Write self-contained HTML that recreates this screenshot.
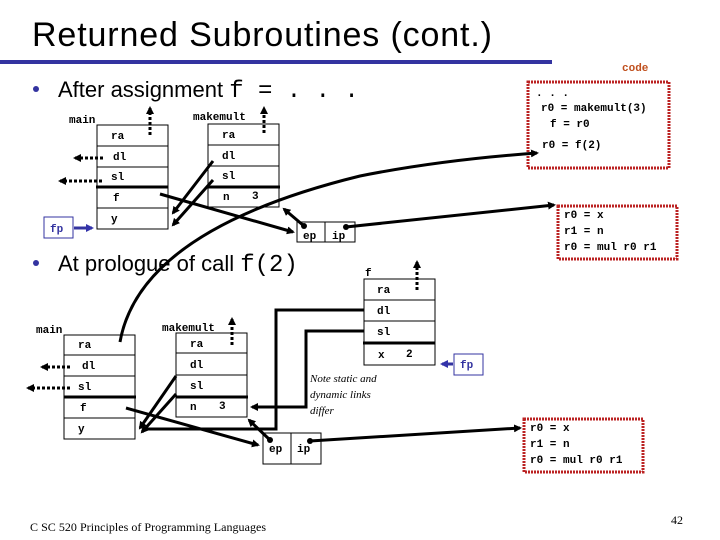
<!DOCTYPE html>
<html><head><meta charset="utf-8"><style>
body{margin:0;background:#fff;width:720px;height:540px;overflow:hidden}
svg{display:block}
.m{font-family:"Liberation Mono",monospace;font-weight:bold;font-size:11px;fill:#000}
.h{font-family:"Liberation Sans",sans-serif;fill:#000}
</style></head><body>
<svg width="720" height="540" viewBox="0 0 720 540" xmlns="http://www.w3.org/2000/svg">
<defs>
<marker id="a" markerWidth="8" markerHeight="8" refX="6" refY="4" orient="auto" markerUnits="userSpaceOnUse"><path d="M0,0 L8,4 L0,8z" fill="#000"/></marker>
<marker id="b" markerWidth="8" markerHeight="8" refX="6" refY="4" orient="auto" markerUnits="userSpaceOnUse"><path d="M0,0 L8,4 L0,8z" fill="#33a"/></marker>
</defs>
<text x="32" y="46" class="h" font-size="34" textLength="460">Returned Subroutines (cont.)</text>
<rect x="0" y="60" width="552" height="4" fill="#3333a0"/>
<text x="622" y="71" font-family="Liberation Mono,monospace" font-weight="bold" font-size="11" fill="#c0501e">code</text>
<circle cx="36" cy="89" r="3" fill="#3333a0"/>
<text x="58" y="97" class="h" font-size="22">After assignment <tspan font-family="Liberation Mono,monospace" font-size="24">f = . . .</tspan></text>
<circle cx="36" cy="263" r="3" fill="#3333a0"/>
<text x="58" y="271" class="h" font-size="22">At prologue of call <tspan font-family="Liberation Mono,monospace" font-size="24">f(2)</tspan></text>

<g fill="none" stroke="#000" stroke-width="1">
<rect x="97" y="125" width="71" height="104"/><line x1="97" y1="146" x2="168" y2="146"/><line x1="97" y1="167" x2="168" y2="167"/><line x1="97" y1="208" x2="168" y2="208"/>
<rect x="208" y="124" width="71" height="83"/><line x1="208" y1="145" x2="279" y2="145"/><line x1="208" y1="166" x2="279" y2="166"/>
<rect x="297" y="222" width="58" height="20"/><line x1="325" y1="222" x2="325" y2="242"/>
<rect x="64" y="335" width="71" height="104"/><line x1="64" y1="355" x2="135" y2="355"/><line x1="64" y1="376" x2="135" y2="376"/><line x1="64" y1="418" x2="135" y2="418"/>
<rect x="176" y="333" width="71" height="84"/><line x1="176" y1="353" x2="247" y2="353"/><line x1="176" y1="375" x2="247" y2="375"/>
<rect x="263" y="433" width="58" height="31"/><line x1="291" y1="433" x2="291" y2="464"/>
<rect x="364" y="279" width="71" height="86"/><line x1="364" y1="300" x2="435" y2="300"/><line x1="364" y1="321" x2="435" y2="321"/>
</g>
<g stroke="#000" stroke-width="3">
<line x1="96" y1="187" x2="168" y2="187"/><line x1="208" y1="187" x2="280" y2="187"/>
<line x1="64" y1="397" x2="136" y2="397"/><line x1="176" y1="397" x2="248" y2="397"/>
<line x1="363" y1="343" x2="435" y2="343"/>
</g>
<g fill="none" stroke="#b22" stroke-width="3" stroke-dasharray="2,1">
<rect x="528" y="82" width="141" height="86"/>
<rect x="558" y="206" width="119" height="53"/>
<rect x="524" y="419" width="119" height="53"/>
</g>
<g fill="none" stroke="#3333a0" stroke-width="1"><rect x="44" y="217" width="29" height="21"/><rect x="454" y="354" width="29" height="21"/></g>
<text x="50" y="232" class="m" style="fill:#3333a0">fp</text>
<text x="460" y="368" class="m" style="fill:#3333a0">fp</text>
<g stroke="#3333a0" stroke-width="3"><line x1="74" y1="228" x2="92" y2="228" marker-end="url(#b)"/><line x1="453" y1="364" x2="442" y2="364" marker-end="url(#b)"/></g>

<g class="m">
<text x="69" y="123">main</text><text x="193" y="120">makemult</text>
<text x="111" y="139">ra</text><text x="113" y="160">dl</text><text x="111" y="180">sl</text><text x="113" y="201">f</text><text x="111" y="222">y</text>
<text x="222" y="138">ra</text><text x="222" y="159">dl</text><text x="222" y="179">sl</text><text x="223" y="200">n</text><text x="252" y="199">3</text>
<text x="303" y="239">ep</text><text x="332" y="239">ip</text>
<text x="36" y="333">main</text><text x="162" y="331">makemult</text>
<text x="78" y="348">ra</text><text x="82" y="369">dl</text><text x="78" y="390">sl</text><text x="80" y="411">f</text><text x="78" y="432">y</text>
<text x="190" y="347">ra</text><text x="190" y="368">dl</text><text x="190" y="389">sl</text><text x="190" y="410">n</text><text x="219" y="409">3</text>
<text x="269" y="452">ep</text><text x="297" y="452">ip</text>
<text x="365" y="276">f</text>
<text x="377" y="293">ra</text><text x="377" y="314">dl</text><text x="377" y="335">sl</text><text x="378" y="358">x</text><text x="406" y="357">2</text>
<text x="536" y="96">. . .</text><text x="541" y="111">r0 = makemult(3)</text><text x="550" y="127">f = r0</text><text x="542" y="148">r0 = f(2)</text>
<text x="564" y="218">r0 = x</text><text x="564" y="234">r1 = n</text><text x="564" y="250">r0 = mul r0 r1</text>
<text x="530" y="431">r0 = x</text><text x="530" y="447">r1 = n</text><text x="530" y="463">r0 = mul r0 r1</text>
</g>
<text x="310" y="382" font-family="Liberation Serif,serif" font-style="italic" font-size="11">Note  static and</text>
<text x="310" y="398" font-family="Liberation Serif,serif" font-style="italic" font-size="11">dynamic links</text>
<text x="310" y="414" font-family="Liberation Serif,serif" font-style="italic" font-size="11">differ</text>

<g stroke="#000" stroke-width="3" fill="none" stroke-dasharray="3,2">
<line x1="150" y1="135" x2="150" y2="108" marker-end="url(#a)"/>
<line x1="264" y1="133" x2="264" y2="108" marker-end="url(#a)"/>
<line x1="103" y1="158" x2="75" y2="158" marker-end="url(#a)"/>
<line x1="102" y1="181" x2="60" y2="181" marker-end="url(#a)"/>
<line x1="70" y1="367" x2="42" y2="367" marker-end="url(#a)"/>
<line x1="70" y1="388" x2="28" y2="388" marker-end="url(#a)"/>
<line x1="232" y1="345" x2="232" y2="319" marker-end="url(#a)"/>
<line x1="417" y1="290" x2="417" y2="262" marker-end="url(#a)"/>
</g>
<g stroke="#000" stroke-width="3" fill="none">
<line x1="213" y1="161" x2="173" y2="213" marker-end="url(#a)"/>
<line x1="213" y1="180" x2="173" y2="225" marker-end="url(#a)"/>
<line x1="160" y1="194" x2="293" y2="232" marker-end="url(#a)"/>
<line x1="304" y1="226" x2="284" y2="209" marker-end="url(#a)"/>
<line x1="346" y1="227" x2="554" y2="205" marker-end="url(#a)"/>
<path d="M120,342 Q140,230 360,176 Q440,160 537,153" marker-end="url(#a)"/>
<line x1="176" y1="376" x2="140" y2="428" marker-end="url(#a)"/>
<line x1="176" y1="394" x2="142" y2="432" marker-end="url(#a)"/>
<line x1="126" y1="408" x2="258" y2="445" marker-end="url(#a)"/>
<line x1="270" y1="440" x2="249" y2="420" marker-end="url(#a)"/>
<line x1="310" y1="441" x2="520" y2="428" marker-end="url(#a)"/>
<polyline points="146,429 276,429 276,310 364,310"/>
<polyline points="364,331 306,331 306,407 252,407" marker-end="url(#a)"/>
</g>
<g fill="#000"><circle cx="304" cy="226" r="3"/><circle cx="346" cy="227" r="3"/><circle cx="270" cy="440" r="3"/><circle cx="310" cy="441" r="3"/></g>

<text x="30" y="531" font-family="Liberation Serif,serif" font-size="12" textLength="236">C SC 520 Principles of Programming Languages</text>
<text x="671" y="524" font-family="Liberation Serif,serif" font-size="12">42</text>
</svg>
</body></html>
